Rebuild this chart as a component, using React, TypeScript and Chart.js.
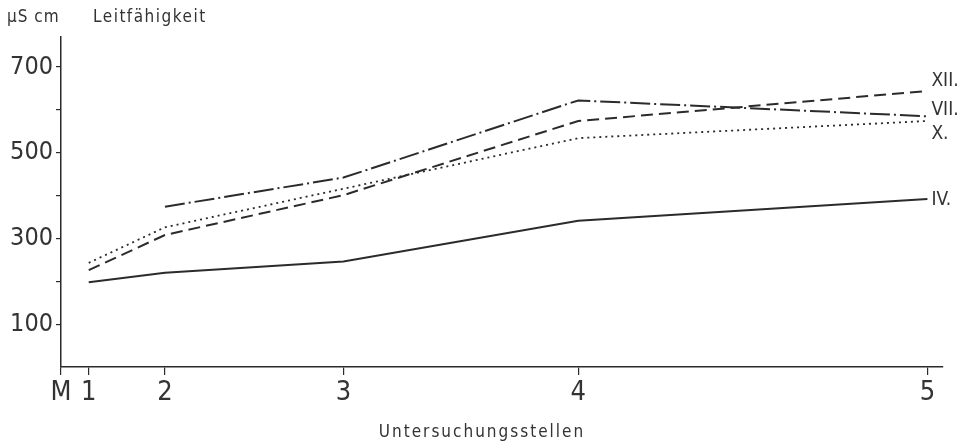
import { useEffect, useRef } from 'react';
import { Chart, registerables } from 'chart.js';

Chart.register(...registerables);

// Sampling stations (position along the stream, arbitrary units) and their tick labels
const stationX = [0.32, 1.2, 3.26, 5.97, 10.0];
const stationLabels = ['1', '2', '3', '4', '5'];

// Conductivity (µS/cm) per sampling campaign
const seriesIV = [198, 220, 246, 341, 392];
const seriesVII = [null, 374, 442, 622, 585];
const seriesXII = [226, 308, 401, 574, 644];
const seriesX = [243, 326, 416, 534, 574];

const seriesNames = ['IV.', 'VII.', 'XII.', 'X.'];

const yTicks = [100, 200, 300, 400, 500, 600, 700];
const yLabeled = [100, 300, 500, 700];

const FONT = '"Liberation Sans Narrow", "DejaVu Sans Condensed", "Liberation Sans", sans-serif';
const INK = '#2b2b2b';
const TEXT = '#333333';

const toPoints = (vals: (number | null)[]) =>
  vals.map((v, i) => ({ x: stationX[i], y: v }));

const labelOffsets: Record<string, number> = { 'IV.': 1, 'VII.': -6, 'XII.': -10, 'X.': 13 };

const textPlugin = {
  id: 'textPlugin',
  afterDraw(chart: any) {
    const ctx = chart.ctx as CanvasRenderingContext2D;
    ctx.save();
    ctx.fillStyle = TEXT;
    ctx.textBaseline = 'middle';
    // top-left unit & quantity
    ctx.font = `17px ${FONT}`;
    (ctx as any).letterSpacing = '1px';
    ctx.textAlign = 'left';
    ctx.fillText('µS cm', 7, 18);
    (ctx as any).letterSpacing = '1.5px';
    ctx.fillText('Leitfähigkeit', 93, 18);
    // x-axis title
    (ctx as any).letterSpacing = '2px';
    ctx.textAlign = 'center';
    ctx.fillText('Untersuchungsstellen', 482, 433);
    // series labels at line ends
    (ctx as any).letterSpacing = '0px';
    ctx.textAlign = 'left';
    ctx.font = `19px ${FONT}`;
    chart.data.datasets.forEach((ds: any, i: number) => {
      const meta = chart.getDatasetMeta(i);
      const pts = meta.data;
      const last = pts[pts.length - 1];
      if (!last) return;
      const name = ds.label as string;
      ctx.fillText(name, last.x + 4, last.y + (labelOffsets[name] ?? 0));
    });
    ctx.restore();
  },
};

export default function App() {
  const ref = useRef<HTMLCanvasElement | null>(null);

  useEffect(() => {
    if (!ref.current) return;
    const common = {
      borderColor: INK,
      borderWidth: 2,
      pointRadius: 0,
      fill: false,
      tension: 0,
      spanGaps: false,
    };
    const chart = new Chart(ref.current, {
      type: 'line',
      data: {
        datasets: [
          { ...common, label: seriesNames[0], data: toPoints(seriesIV), borderDash: [] },
          { ...common, label: seriesNames[1], data: toPoints(seriesVII), borderDash: [20, 4, 2, 4] },
          { ...common, label: seriesNames[2], data: toPoints(seriesXII), borderDash: [12, 6] },
          { ...common, label: seriesNames[3], data: toPoints(seriesX), borderDash: [2, 4], borderWidth: 1.8 },
        ] as any,
      },
      options: {
        animation: false,
        responsive: true,
        maintainAspectRatio: false,
        layout: { padding: { left: 0, right: 20, top: 37, bottom: 0 } },
        plugins: {
          legend: { display: false },
          tooltip: { enabled: false },
          title: { display: false },
        },
        scales: {
          x: {
            type: 'linear',
            min: 0,
            max: 10.18,
            afterBuildTicks: (s: any) => {
              s.ticks = [0, ...stationX].map((v) => ({ value: v }));
            },
            afterFit: (s: any) => {
              s.height = 78;
            },
            ticks: {
              autoSkip: false,
              maxRotation: 0,
              minRotation: 0,
              padding: 2,
              color: TEXT,
              font: { family: FONT, size: 27 },
              callback: (_v: any, i: number) => (i === 0 ? 'M' : stationLabels[i - 1]),
            },
            grid: { drawOnChartArea: false, tickLength: 8, color: INK, lineWidth: 1.2 },
            border: { color: INK, width: 1.5 },
          },
          y: {
            type: 'linear',
            min: 0,
            max: 770,
            afterBuildTicks: (s: any) => {
              s.ticks = yTicks.map((v) => ({ value: v }));
            },
            afterFit: (s: any) => {
              s.width = 61;
            },
            ticks: {
              autoSkip: false,
              padding: 3,
              color: TEXT,
              font: { family: FONT, size: 25 },
              callback: (v: any) => (yLabeled.includes(Number(v)) ? String(v) : ''),
            },
            grid: { drawOnChartArea: false, tickLength: 5, color: INK, lineWidth: 1.2 },
            border: { color: INK, width: 1.5 },
          },
        },
      } as any,
      plugins: [textPlugin],
    });
    return () => chart.destroy();
  }, []);

  return (
    <div style={{ position: 'absolute', left: 0, top: 0, width: 963, height: 445, background: '#fff' }}>
      <canvas ref={ref} />
    </div>
  );
}
